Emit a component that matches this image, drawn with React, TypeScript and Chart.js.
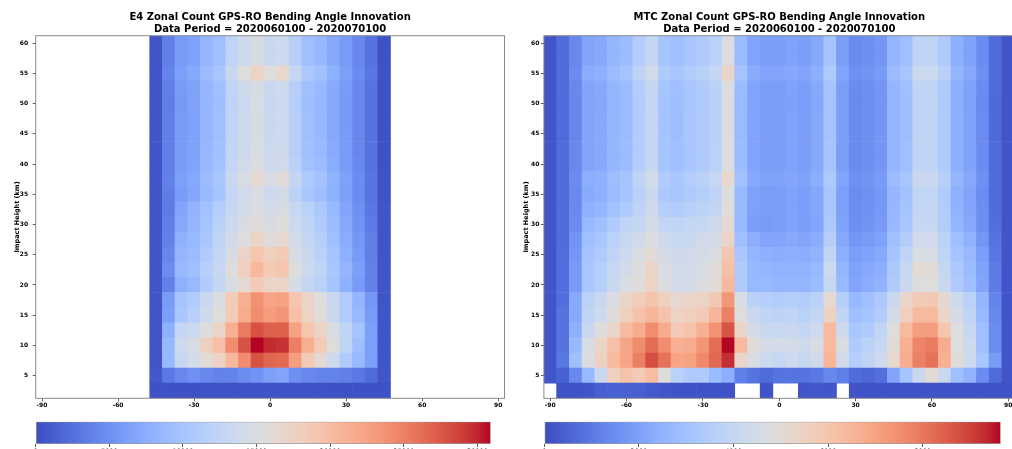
import React, { useEffect, useRef } from "react";
import { Chart, registerables } from "chart.js";

Chart.register(...registerables);

const FONT = "'DejaVu Sans', 'Liberation Sans', sans-serif";

// ---------------- data ----------------
const heights = [2.5, 5, 7.5, 10, 12.5, 15, 17.5, 20, 22.5, 25, 27.5, 30, 32.5, 35, 37.5, 40, 42.5, 45, 47.5, 50, 52.5, 55, 57.5, 60];
const heightStep = 2.5;
const latStep = 5;

const e4Lats = [-45, -40, -35, -30, -25, -20, -15, -10, -5, 0, 5, 10, 15, 20, 25, 30, 35, 40, 45];
const mtcLats = [-90, -85, -80, -75, -70, -65, -60, -55, -50, -45, -40, -35, -30, -25, -20, -15, -10, -5, 0, 5, 10, 15, 20, 25, 30, 35, 40, 45, 50, 55, 60, 65, 70, 75, 80, 85, 90];

const latTicks = [-90, -60, -30, 0, 30, 60, 90];
const heightTicks = [5, 10, 15, 20, 25, 30, 35, 40, 45, 50, 55, 60];
const e4ColorbarTicks = [0, 5000, 10000, 15000, 20000, 25000, 30000];
const mtcColorbarTicks = [0, 2000, 4000, 6000, 8000];

const e4Title = ["E4 Zonal Count GPS-RO Bending Angle Innovation", "Data Period = 2020060100 - 2020070100"];
const mtcTitle = ["MTC Zonal Count GPS-RO Bending Angle Innovation", "Data Period = 2020060100 - 2020070100"];
const yTitle = "Impact Height (km)";

// rows: bottom (2.5 km) to top (60 km); columns follow e4Lats
const e4Counts = [
  [380, 390, 410, 430, 440, 460, 470, 480, 500, 510, 500, 480, 470, 450, 440, 420, 400, 390, 370],
  [900, 3100, 4300, 5000, 4300, 3900, 4000, 4700, 5300, 6200, 6800, 5000, 4300, 4000, 4000, 3700, 3100, 2200, 600],
  [600, 8700, 13000, 14300, 16100, 17400, 20500, 24200, 27900, 26700, 26400, 22900, 18600, 16400, 13600, 10900, 8700, 6200, 600],
  [600, 8700, 13600, 14900, 18000, 19800, 24200, 27900, 30900, 29800, 29500, 25100, 21400, 18600, 15500, 12400, 9300, 6200, 600],
  [600, 7800, 12700, 13600, 15500, 17100, 21400, 25400, 27900, 27000, 27000, 22600, 19200, 17400, 14900, 12400, 9900, 6200, 600],
  [600, 6200, 10200, 11500, 13600, 15500, 18600, 21700, 24200, 22900, 23600, 19800, 17400, 15800, 13300, 10900, 8700, 5900, 600],
  [600, 5900, 9900, 10900, 13300, 15200, 18600, 21400, 23900, 22300, 22600, 19200, 17100, 15500, 13300, 10900, 8400, 5600, 600],
  [600, 3900, 7800, 8700, 10900, 12700, 14900, 16400, 18600, 17100, 17100, 14600, 12700, 11800, 9900, 7800, 5900, 3900, 600],
  [600, 4700, 8700, 9300, 11500, 13000, 15500, 18000, 20500, 18600, 19200, 15500, 13600, 12400, 10200, 8400, 6200, 3900, 600],
  [600, 4300, 8400, 9000, 10900, 12700, 14900, 17100, 19200, 18000, 18600, 14900, 13300, 11800, 9900, 7800, 5900, 3700, 600],
  [600, 3900, 7800, 8700, 10200, 12400, 14300, 15500, 17100, 15800, 16400, 14300, 12700, 11500, 9300, 7400, 5600, 3700, 600],
  [600, 3700, 7100, 8400, 9900, 11800, 13600, 14900, 15800, 14900, 15500, 13600, 12400, 10900, 9000, 7100, 5300, 3400, 600],
  [600, 3400, 6800, 8100, 9600, 11200, 13000, 14300, 15200, 14300, 14900, 13000, 11800, 10500, 8700, 6800, 5000, 3100, 600],
  [600, 3500, 6000, 6900, 8800, 9900, 12700, 13900, 15000, 13600, 14200, 12100, 10200, 9300, 7800, 6300, 4600, 2900, 450],
  [650, 3800, 6300, 7100, 9000, 10200, 13300, 14900, 16400, 14600, 15800, 12900, 10700, 9800, 8000, 6400, 4700, 3000, 450],
  [620, 3700, 6000, 6700, 8600, 9500, 12700, 13900, 15200, 13600, 13900, 11800, 9600, 9000, 7400, 6000, 4400, 2800, 420],
  [610, 3700, 5900, 6600, 8500, 9400, 12500, 13700, 15000, 13400, 13700, 11600, 9400, 8800, 7200, 5900, 4300, 2800, 410],
  [600, 3700, 5900, 6500, 8400, 9300, 12400, 13600, 14900, 13300, 13600, 11500, 9300, 8700, 7100, 5900, 4300, 2800, 400],
  [600, 3600, 5900, 6500, 8400, 9300, 12400, 13600, 14900, 13300, 13600, 11500, 9300, 8700, 7100, 5800, 4300, 2800, 400],
  [600, 3600, 5800, 6500, 8300, 9200, 12300, 13500, 14800, 13200, 13500, 11400, 9200, 8600, 7100, 5800, 4300, 2700, 400],
  [600, 3700, 5900, 6600, 8400, 9300, 12400, 13700, 14900, 13300, 13700, 11600, 9400, 8700, 7200, 5900, 4300, 2800, 400],
  [650, 4000, 6200, 7100, 9000, 10200, 13300, 15500, 17300, 15500, 16700, 13000, 10500, 9600, 7800, 6200, 4600, 3100, 450],
  [600, 3700, 5900, 6500, 8400, 9300, 12400, 13600, 14900, 13300, 13600, 11500, 9300, 8700, 7100, 5900, 4300, 2800, 400],
  [600, 3700, 5900, 6500, 8400, 9300, 12400, 13600, 14900, 13300, 13600, 11500, 9300, 8700, 7100, 5900, 4300, 2800, 400],
];

// rows: bottom (2.5 km) to top (60 km); columns follow mtcLats; null = no data
const mtcCounts = [
  [null, 150, 160, 200, 400, 480, 480, 420, 300, 220, 180, 170, 160, 160, 170, null, null, 170, null, null, 220, 230, 220, null, 170, 160, 160, 160, 150, 150, 150, 150, 150, 150, 150, 150, 150],
  [190, 480, 1350, 2700, 4150, 5600, 6080, 5790, 6270, 4830, 3670, 3380, 3380, 2800, 2410, 1160, 870, 680, 870, 870, 870, 970, 1350, 1160, 680, 580, 770, 2120, 3090, 4150, 5020, 4150, 2900, 2510, 1450, 680, 190],
  [190, 970, 2900, 4730, 5500, 6370, 6950, 7820, 8780, 8110, 6950, 7040, 7620, 8300, 9260, 5310, 4630, 4250, 4050, 4250, 4050, 4340, 6470, 4340, 3570, 3860, 4250, 5210, 6760, 7820, 8110, 6660, 4920, 4250, 3180, 1830, 190],
  [190, 870, 2700, 4630, 5310, 6180, 6950, 7530, 8200, 7530, 6660, 6760, 7330, 8200, 9650, 6370, 4920, 4540, 4440, 4540, 4250, 4630, 6370, 4630, 3380, 3670, 4050, 5020, 6660, 7720, 7910, 6760, 4830, 4250, 2900, 1450, 190],
  [190, 870, 2410, 4150, 4830, 5310, 6370, 6760, 7530, 6760, 5790, 6080, 6660, 7430, 8690, 5310, 4440, 4150, 4050, 4150, 3960, 4250, 6370, 4250, 3180, 3380, 3860, 4830, 6370, 7140, 7140, 5980, 4830, 4050, 2900, 1450, 190],
  [190, 870, 2220, 3860, 4250, 4920, 5600, 6080, 6470, 6080, 5400, 5600, 5790, 6470, 7820, 4830, 4150, 3860, 3760, 3860, 3670, 3960, 5500, 3860, 2900, 3090, 3470, 4440, 5600, 6370, 6370, 5310, 4440, 3860, 2700, 1350, 190],
  [190, 770, 2220, 3670, 4150, 4730, 5310, 5690, 6080, 5600, 5110, 5310, 5400, 5890, 7330, 4630, 3670, 3570, 3470, 3570, 3470, 3670, 5110, 3570, 2700, 2900, 3280, 4150, 5310, 5790, 5890, 5110, 4250, 3670, 2610, 1250, 190],
  [190, 770, 1830, 3180, 3570, 4150, 4630, 4920, 5400, 4730, 4440, 4540, 4730, 5020, 6370, 3380, 2700, 2700, 2610, 2610, 2610, 2800, 4050, 2700, 2120, 2320, 2510, 3380, 4150, 4830, 4830, 4150, 3380, 2900, 2120, 1060, 190],
  [190, 770, 1830, 3180, 3570, 4050, 4440, 4830, 5400, 4630, 4340, 4440, 4630, 4920, 6180, 3380, 2700, 2610, 2510, 2510, 2510, 2700, 4250, 2610, 2030, 2220, 2410, 3280, 4050, 5020, 5020, 4050, 3280, 2800, 2030, 1060, 190],
  [190, 770, 1740, 3090, 3380, 3860, 4250, 4630, 5020, 4540, 4250, 4340, 4540, 4730, 5980, 3180, 2610, 2410, 2320, 2410, 2320, 2510, 3860, 2410, 1930, 2030, 2220, 3090, 3860, 4630, 4630, 3860, 3090, 2700, 1930, 970, 190],
  [190, 680, 1640, 2900, 3180, 3670, 4050, 4340, 4730, 4250, 4050, 4150, 4340, 4540, 5400, 2900, 2410, 2120, 2120, 2220, 2120, 2320, 3570, 2220, 1740, 1830, 2030, 2900, 3470, 4340, 4340, 3670, 2900, 2510, 1740, 870, 190],
  [190, 680, 1450, 2700, 2900, 3380, 3860, 4050, 4540, 3960, 3860, 3960, 4050, 4250, 5110, 2700, 1930, 1830, 1930, 2030, 1930, 2120, 3280, 2030, 1540, 1640, 1830, 2700, 3180, 4050, 4050, 3470, 2610, 2220, 1540, 770, 190],
  [190, 680, 1400, 2450, 2600, 3000, 3350, 3800, 4300, 3550, 3400, 3600, 3750, 3950, 4900, 2750, 2000, 1880, 1930, 2030, 1930, 2170, 3180, 1980, 1500, 1590, 1790, 2650, 3050, 3950, 3950, 3420, 2500, 2120, 1500, 720, 190],
  [190, 680, 1380, 2280, 2400, 2800, 3100, 3650, 4150, 3300, 3150, 3380, 3560, 3800, 4800, 2750, 2060, 1900, 1930, 2030, 1930, 2170, 3130, 1960, 1480, 1570, 1770, 2630, 2980, 3900, 3900, 3400, 2450, 2070, 1470, 700, 190],
  [200, 700, 1450, 2350, 2450, 2850, 3100, 3850, 4400, 3400, 3200, 3500, 3700, 4050, 5200, 3000, 2250, 2050, 2050, 2150, 2050, 2350, 3300, 2100, 1550, 1650, 1850, 2800, 3150, 4150, 4150, 3600, 2600, 2200, 1550, 720, 200],
  [190, 680, 1350, 2120, 2220, 2610, 2800, 3500, 4000, 3090, 2900, 3180, 3380, 3670, 4730, 2800, 2120, 1930, 1930, 2030, 1930, 2220, 3090, 1930, 1450, 1540, 1740, 2610, 2900, 3860, 3860, 3380, 2410, 2030, 1450, 680, 190],
  [190, 680, 1350, 2120, 2220, 2610, 2800, 3480, 3980, 3090, 2900, 3180, 3380, 3670, 4720, 2800, 2120, 1930, 1930, 2030, 1930, 2220, 3090, 1930, 1450, 1540, 1740, 2610, 2900, 3860, 3860, 3380, 2410, 2030, 1450, 680, 190],
  [190, 680, 1340, 2110, 2210, 2600, 2790, 3470, 3970, 3080, 2890, 3170, 3370, 3660, 4710, 2790, 2110, 1920, 1920, 2020, 1920, 2210, 3080, 1920, 1440, 1530, 1730, 2600, 2890, 3850, 3850, 3370, 2400, 2020, 1440, 670, 190],
  [190, 680, 1340, 2110, 2210, 2600, 2790, 3470, 3970, 3080, 2890, 3170, 3370, 3660, 4710, 2790, 2110, 1920, 1920, 2020, 1920, 2210, 3080, 1920, 1440, 1530, 1730, 2600, 2890, 3850, 3850, 3370, 2400, 2020, 1440, 670, 190],
  [190, 680, 1330, 2100, 2200, 2590, 2780, 3460, 3960, 3070, 2880, 3160, 3360, 3650, 4700, 2780, 2100, 1910, 1910, 2010, 1910, 2200, 3070, 1910, 1430, 1520, 1720, 2590, 2880, 3840, 3840, 3360, 2390, 2010, 1430, 670, 190],
  [190, 680, 1350, 2120, 2220, 2610, 2800, 3500, 4000, 3090, 2900, 3180, 3380, 3670, 4730, 2800, 2120, 1930, 1930, 2030, 1930, 2220, 3090, 1930, 1450, 1540, 1740, 2610, 2900, 3860, 3860, 3380, 2410, 2030, 1450, 680, 190],
  [200, 720, 1450, 2300, 2400, 2800, 3050, 3800, 4400, 3350, 3150, 3450, 3650, 4000, 5300, 3050, 2300, 2100, 2100, 2200, 2100, 2400, 3350, 2100, 1550, 1650, 1850, 2800, 3150, 4200, 4200, 3650, 2600, 2200, 1550, 720, 200],
  [190, 680, 1350, 2120, 2220, 2610, 2800, 3500, 4000, 3090, 2900, 3180, 3380, 3670, 4730, 2800, 2120, 1930, 1930, 2030, 1930, 2220, 3090, 1930, 1450, 1540, 1740, 2610, 2900, 3860, 3860, 3380, 2410, 2030, 1450, 680, 190],
  [190, 680, 1350, 2120, 2220, 2610, 2800, 3500, 4000, 3090, 2900, 3180, 3380, 3670, 4730, 2800, 2120, 1930, 1930, 2030, 1930, 2220, 3090, 1930, 1450, 1540, 1740, 2610, 2900, 3860, 3860, 3380, 2410, 2030, 1450, 680, 190],
];

// ---------------- colour map (matplotlib "coolwarm") ----------------
const coolwarmStops = [
  [59, 76, 192], [68, 90, 204], [77, 104, 215], [87, 117, 225], [98, 130, 234], [108, 142, 241],
  [119, 154, 247], [130, 165, 251], [141, 176, 254], [152, 185, 255], [163, 194, 255], [174, 201, 253],
  [184, 208, 249], [194, 213, 244], [204, 217, 238], [213, 219, 230], [221, 221, 221], [229, 216, 209],
  [236, 211, 197], [241, 204, 185], [245, 196, 173], [247, 187, 160], [247, 177, 148], [247, 166, 135],
  [244, 154, 123], [241, 141, 111], [236, 127, 99], [229, 112, 88], [222, 96, 77], [213, 80, 66],
  [203, 62, 56], [192, 40, 47], [180, 4, 38],
];

function coolwarm(t: number): string {
  const tt = Math.max(0, Math.min(1, t));
  const n = coolwarmStops.length - 1;
  const f = tt * n;
  const i = Math.min(Math.floor(f), n - 1);
  const u = f - i;
  const a = coolwarmStops[i];
  const b = coolwarmStops[i + 1];
  const c = a.map((v, k) => Math.round(v + (b[k] - v) * u));
  return `rgb(${c[0]},${c[1]},${c[2]})`;
}

function maxOf(grid: (number | null)[][]): number {
  let m = 0;
  grid.forEach((row) => row.forEach((v) => { if (v !== null && v > m) m = v; }));
  return m;
}

const tickFont = { family: FONT, size: 6, weight: "bold" as const };

const framePlugin = {
  id: "frame",
  afterDatasetsDraw(chart: any) {
    const { ctx, chartArea: a } = chart;
    ctx.save();
    ctx.strokeStyle = "#8a8a8a";
    ctx.lineWidth = 1;
    ctx.strokeRect(a.left, a.top, a.right - a.left, a.bottom - a.top);
    ctx.restore();
  },
};

// ---------------- heatmap panel ----------------
function HeatmapPanel(props: any) {
  const { left, width, height, lats, counts, title, yAxisWidth, padRight, yTickPad, yTitlePad } = props;
  const ref = useRef<HTMLCanvasElement>(null);
  useEffect(() => {
    const vmax = maxOf(counts);
    const datasets = heights.map((h, r) => ({
      data: lats
        .map((lat: number, c: number) => ({ x: lat, y: [h - heightStep / 2, h + heightStep / 2], v: counts[r][c] }))
        .filter((p: any) => p.v !== null),
      backgroundColor: (ctx: any) => coolwarm(ctx.raw ? ctx.raw.v / vmax : 0),
      borderWidth: 0,
      barPercentage: 1,
      categoryPercentage: 1,
    }));
    const chart = new Chart(ref.current as HTMLCanvasElement, {
      type: "bar",
      data: { datasets } as any,
      plugins: [framePlugin],
      options: {
        animation: false,
        responsive: false,
        events: [],
        layout: { padding: { left: 0, right: padRight, top: 0, bottom: 6.7 } },
        plugins: {
          legend: { display: false },
          tooltip: { enabled: false },
          title: {
            display: true,
            text: title,
            fullSize: false,
            color: "#000",
            font: { family: FONT, size: 10, weight: "bold", lineHeight: 1.17 },
            padding: { top: 11.45, bottom: 0.85 },
          },
        },
        scales: {
          x: {
            type: "linear",
            min: mtcLats[0] - latStep / 2,
            max: mtcLats[mtcLats.length - 1] + latStep / 2,
            bounds: "data",
            offset: false,
            stacked: true,
            afterBuildTicks: (s: any) => { s.ticks = latTicks.map((value) => ({ value })); },
            afterFit: (s: any) => { s.height = 15; },
            ticks: { callback: (v: any) => String(v), font: tickFont, color: "#000", padding: 1, autoSkip: false, maxRotation: 0, minRotation: 0 },
            grid: { display: true, drawOnChartArea: false, drawTicks: true, tickLength: 3, color: "#333", lineWidth: 0.8, offset: false },
            border: { display: false },
          },
          y: {
            type: "linear",
            min: heights[0] - heightStep / 2,
            max: heights[heights.length - 1] + heightStep / 2,
            bounds: "data",
            afterBuildTicks: (s: any) => { s.ticks = heightTicks.map((value) => ({ value })); },
            afterFit: (s: any) => { s.width = yAxisWidth; },
            title: {
              display: true,
              text: yTitle,
              color: "#000",
              font: { family: FONT, size: 6.5, weight: "bold" },
              padding: { top: yTitlePad, bottom: 0 },
            },
            ticks: { callback: (v: any) => String(v), font: tickFont, color: "#000", padding: yTickPad, autoSkip: false },
            grid: { display: true, drawOnChartArea: false, drawTicks: true, tickLength: 3, color: "#333", lineWidth: 0.8 },
            border: { display: false },
          },
        },
      } as any,
    });
    return () => chart.destroy();
  }, []);
  return (
    <canvas
      ref={ref}
      width={width}
      height={height}
      style={{ position: "absolute", left, top: 0, width, height }}
    />
  );
}

// ---------------- colour bar ----------------
function colorbarGradient(chart: any, vmax: number): any {
  const area = chart.chartArea;
  const xs = chart.scales && chart.scales.x;
  if (!area || !xs) return coolwarm(0.5);
  const x0 = xs.getPixelForValue(0);
  const x1 = xs.getPixelForValue(vmax);
  const g = chart.ctx.createLinearGradient(x0, 0, x1, 0);
  coolwarmStops.forEach((c, i) => g.addColorStop(i / (coolwarmStops.length - 1), `rgb(${c[0]},${c[1]},${c[2]})`));
  return g;
}

function Colorbar(props: any) {
  const { left, top, width, height, counts, ticks, padLeft, padRight } = props;
  const ref = useRef<HTMLCanvasElement>(null);
  useEffect(() => {
    const vmax = maxOf(counts);
    const chart = new Chart(ref.current as HTMLCanvasElement, {
      type: "bar",
      data: {
        labels: [""],
        datasets: [
          {
            data: [[0, vmax]],
            backgroundColor: (ctx: any) => colorbarGradient(ctx.chart, vmax),
            borderColor: "#9a9a9a",
            borderWidth: 1,
            borderSkipped: false,
            barPercentage: 1,
            categoryPercentage: 1,
          },
        ],
      } as any,
      options: {
        indexAxis: "y",
        animation: false,
        responsive: false,
        events: [],
        layout: { padding: { left: padLeft, right: padRight, top: 11.7, bottom: 6 } },
        plugins: { legend: { display: false }, tooltip: { enabled: false } },
        scales: {
          x: {
            type: "linear",
            min: 0,
            max: vmax,
            bounds: "data",
            afterBuildTicks: (s: any) => { s.ticks = ticks.map((value: number) => ({ value })); },
            afterFit: (s: any) => { s.height = 20; },
            ticks: { callback: (v: any) => String(v), font: tickFont, color: "#000", padding: 1, autoSkip: false, maxRotation: 0, minRotation: 0 },
            grid: { display: true, drawOnChartArea: false, drawTicks: true, tickLength: 3, color: "#333", lineWidth: 0.8, offset: false },
            border: { display: false },
          },
          y: { type: "category", display: false },
        },
      } as any,
    });
    return () => chart.destroy();
  }, []);
  return (
    <canvas
      ref={ref}
      width={width}
      height={height}
      style={{ position: "absolute", left, top, width, height }}
    />
  );
}

export default function App() {
  return (
    <div
      style={{
        position: "fixed",
        left: 0,
        top: 0,
        width: 1012,
        height: 449,
        overflow: "hidden",
        background: "#fff",
      }}
    >
      <HeatmapPanel
        left={0}
        width={512}
        height={420}
        lats={e4Lats}
        counts={e4Counts}
        title={e4Title}
        yAxisWidth={35.7}
        padRight={7.5}
        yTickPad={4.5}
        yTitlePad={13.1}
      />
      <HeatmapPanel
        left={508}
        width={520}
        height={420}
        lats={mtcLats}
        counts={mtcCounts}
        title={mtcTitle}
        yAxisWidth={35.9}
        padRight={13.4}
        yTickPad={1.5}
        yTitlePad={14.1}
      />
      <Colorbar left={0} top={410} width={512} height={60} counts={e4Counts} ticks={e4ColorbarTicks} padLeft={35.7} padRight={21.3} />
      <Colorbar left={508} top={410} width={520} height={60} counts={mtcCounts} ticks={mtcColorbarTicks} padLeft={36.3} padRight={27.3} />
    </div>
  );
}
